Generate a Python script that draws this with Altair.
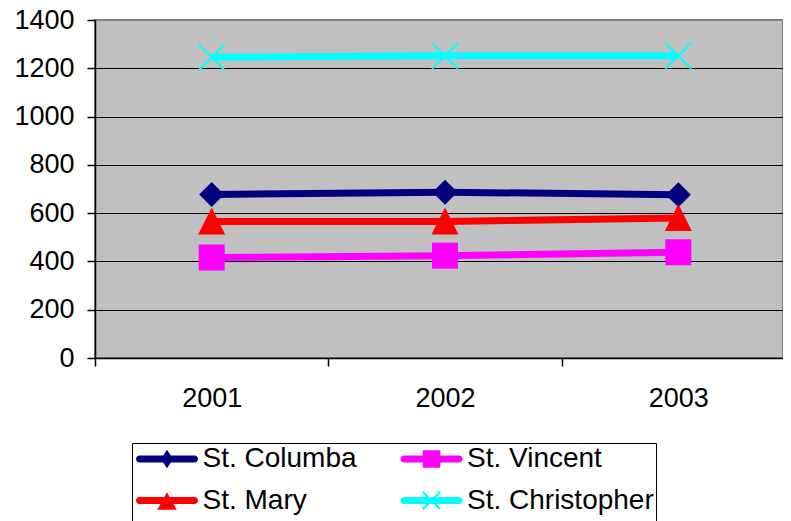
import altair as alt
import pandas as pd

# ---- data ----
years = ["2001", "2002", "2003"]
schools = ["St. Columba", "St. Vincent", "St. Mary", "St. Christopher"]
st_columba = [677, 687, 676]
st_vincent = [416, 424, 438]
st_mary = [565, 565, 580]
st_christopher = [1246, 1252, 1252]
y_ticks = [0, 200, 400, 600, 800, 1000, 1200, 1400]

colors = ["#000080", "#FF00FF", "#FF0000", "#00FFFF"]

# marker glyphs (custom symbol paths)
marker_paths = [
    "M0,-1.25L1.25,0L0,1.25L-1.25,0Z",
    "M-1.3,-1.3H1.3V1.3H-1.3Z",
    "M0,-1.4L1.35,1.3L-1.35,1.3Z",
    "M-1.23,-1.37L1.37,1.23L1.23,1.37L-1.37,-1.23Z M1.23,-1.37L1.37,-1.23L-1.23,1.37L-1.37,1.23Z",
]
legend_line = "M-2.75,-0.35H2.75A0.35,0.35 0 0 1 2.75,0.35H-2.75A0.35,0.35 0 0 1 -2.75,-0.35Z "
legend_paths = [
    legend_line + "M0,-0.92L0.63,0L0,0.92L-0.63,0Z",
    legend_line + "M-0.88,-0.88H0.88V0.88H-0.88Z",
    legend_line + "M0,-0.83L0.97,0.93L-0.97,0.93Z",
    legend_line + "M-0.81,-0.95L0.95,0.81L0.81,0.95L-0.95,-0.81Z M0.81,-0.95L0.95,-0.81L-0.81,0.95L-0.95,0.81Z",
]

rows = []
for s, vals in zip(schools, [st_columba, st_vincent, st_mary, st_christopher]):
    for yr, v in zip(years, vals):
        rows.append({"year": yr, "school": s, "value": v})
df = pd.DataFrame(rows)

FONT = "Liberation Sans"

x_enc = alt.X(
    "year:O",
    bandPosition=0.5,
    scale=alt.Scale(type="band", domain=years, paddingInner=0, paddingOuter=0, range=[0, 700]),
    axis=alt.Axis(title=None, tickBand="extent", tickSize=8, labelPadding=19,
                  labelAngle=0, grid=False),
)
y_enc = alt.Y(
    "value:Q",
    scale=alt.Scale(domain=[0, 1400], nice=False),
    axis=alt.Axis(title=None, values=y_ticks, tickSize=8, labelPadding=13, format="d",
                  grid=True,
                  gridColor=alt.condition("datum.value >= 1400", alt.value("#808080"), alt.value("#000000"))),
)

base = alt.Chart(df)

line_layers = []
point_layers = []
for s, c, path in zip(schools, colors, marker_paths):
    sub = base.transform_filter(alt.datum.school == s)
    line_layers.append(sub.mark_line(strokeWidth=7, color=c).encode(x=x_enc, y=y_enc))
    point_layers.append(
        sub.mark_point(shape=path, filled=True, size=400, opacity=1, strokeWidth=0, color=c)
        .encode(x=x_enc, y=y_enc)
    )

leg = alt.Legend(
    title=" ", titleOrient="bottom", titleFontSize=30, titlePadding=0,
    orient="none", legendX=37, legendY=423, columns=2, direction="horizontal",
    symbolSize=400, symbolStrokeWidth=0, symbolOffset=19, labelOffset=21.5,
    labelFont=FONT, labelFontSize=28, labelColor="black", labelLimit=600,
    columnPadding=41.5, rowPadding=13.5, padding=2, strokeColor="black",
)

legend_layer = base.transform_filter("false").mark_point(filled=True, opacity=1, size=400).encode(
    x=x_enc, y=y_enc,
    color=alt.Color("school:N", scale=alt.Scale(domain=schools, range=colors), legend=leg),
    shape=alt.Shape("school:N", scale=alt.Scale(domain=schools, range=legend_paths), legend=leg),
)

chart = alt.layer(*line_layers, *point_layers, legend_layer).properties(
    width=688, height=338,
    autosize=alt.AutoSizeParams(type="none"),
    padding={"left": 87, "top": 12, "right": 0, "bottom": 163},
    background="white",
).configure_view(
    fill="#C0C0C0", stroke="#808080", strokeWidth=2,
).configure_axis(
    labelFont=FONT, labelFontSize=27, labelColor="black",
    domainColor="black", domainWidth=1.5, tickColor="black", tickWidth=1.5,
    gridWidth=1,
)

chart.save("out.html", embed_options={"renderer": "svg", "actions": False})
